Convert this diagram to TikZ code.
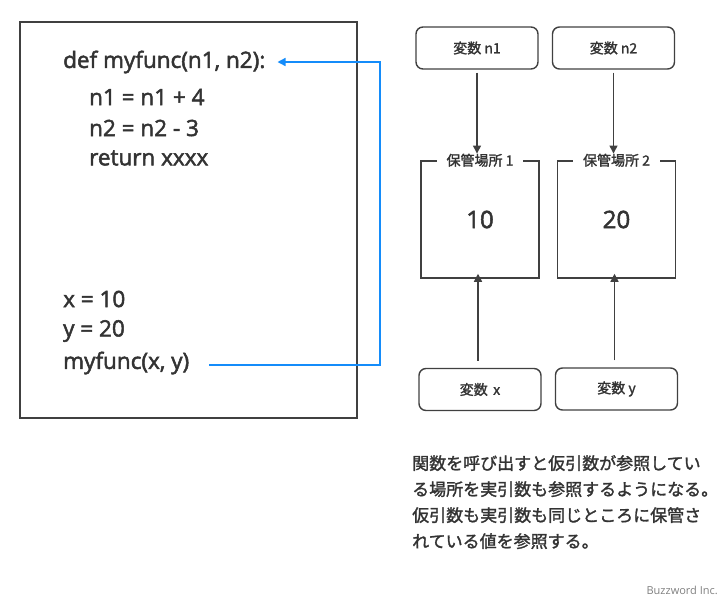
\documentclass[tikz,border=0pt]{standalone}
\usepackage{fontspec}
\usepackage{tikz}
\usetikzlibrary{arrows.meta}
\setmainfont{Open Sans}
\newfontfamily\codefont[FakeBold=2.2]{Open Sans}
\newfontfamily\jp[FakeBold=1.6]{Noto Sans CJK JP}
\definecolor{inkgray}{RGB}{51,51,51}
\definecolor{linegray}{RGB}{64,64,64}
\definecolor{callblue}{RGB}{20,140,250}

\begin{document}
\begin{tikzpicture}[x=1pt,y=-1pt,
  code/.style={anchor=west,inner sep=0pt,text=inkgray,font=\codefont\fontsize{22.5}{22}\selectfont},
  varbox/.style={draw=linegray,line width=1.4pt,rounded corners=7pt,minimum width=122pt,minimum height=42pt,text=inkgray,font=\jp\fontsize{14}{14}\selectfont},
  store/.style={draw=linegray,line width=1.5pt,minimum width=118pt,minimum height=117pt,text=inkgray,font=\codefont\fontsize{24}{24}\selectfont},
  storelabel/.style={fill=white,inner xsep=10pt,inner ysep=1pt,text=inkgray,font=\jp\fontsize{14}{14}\selectfont},
  refarrow/.style={draw=linegray,line width=1.3pt,-{Triangle[length=8pt,width=8pt]}}]
\useasboundingbox (0,0) rectangle (728,600);

% code
\node [draw=linegray,line width=1.5pt,minimum width=337pt,minimum height=396pt,inner sep=0pt] (codebox) at (188.5,220) {};
\node [code] (fdef) at (63,62) {def myfunc(n1, n2):};
\node [code] (fline1) at (89,97) {n1 = n1 + 4};
\node [code] (fline2) at (89,128) {n2 = n2 - 3};
\node [code] (fret) at (89,158) {return xxxx};
\node [code] (setx) at (63,299) {x = 10};
\node [code] (sety) at (63,331) {y = 20};
\node [code] (fcall) at (63,363) {myfunc(x, y)};
\coordinate (turn) at (380,0);
\draw [callblue,line width=1.4pt,-{Triangle[length=8pt,width=8pt]}]
  ([xshift=20pt,yshift=-2pt]fcall.east) -- ([yshift=-2pt]fcall.east -| turn)
  -- (fdef.east -| turn) -- ([xshift=12pt]fdef.east);

% variables and storage
\node [varbox] (varn1) at (477,48) {変数 n1};
\node [varbox] (varn2) at (613.5,48) {変数 n2};
\node [store] (store1) at (480,219.5) {10};
\node [store] (store2) at (616.5,219.5) {20};
\node [storelabel] (lab1) at (store1.north) {保管場所 1};
\node [storelabel] (lab2) at (store2.north) {保管場所 2};
\node [varbox] (varx) at (480,389.5) {変数\,\ x};
\node [varbox] (vary) at (616.5,389) {変数 y};

\draw [refarrow] ([yshift=-3pt]varn1.south) -- ([yshift=-1pt]varn1.south |- lab1.north);
\draw [refarrow] ([yshift=-3pt]varn2.south) -- ([yshift=-1pt]varn2.south |- lab2.north);
\draw [refarrow] ([xshift=-2pt,yshift=7pt]varx.north) -- ([xshift=-2pt,yshift=5pt]varx.north |- store1.south);
\draw [refarrow] ([xshift=-2pt,yshift=7pt]vary.north) -- ([xshift=-2pt,yshift=5pt]vary.north |- store2.south);

% note
\node [anchor=north west,align=left,inner sep=0pt,text=inkgray,font=\jp\fontsize{17}{26}\selectfont] (note) at (412,455)
{関数を呼び出すと仮引数が参照してい\\る場所を実引数も参照するようになる。\\仮引数も実引数も同じところに保管さ\\れている値を参照する。};
\node [anchor=east,inner sep=0pt,text=gray,font=\fontsize{11}{11}\selectfont] (credit) at (718,590) {Buzzword Inc.};
\end{tikzpicture}
\end{document}
